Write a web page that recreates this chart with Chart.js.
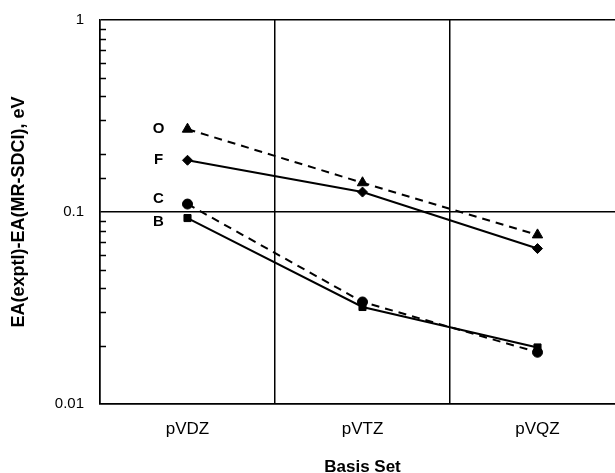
<!DOCTYPE html>
<html>
<head>
<meta charset="utf-8">
<script src="https://cdn.jsdelivr.net/npm/chart.js@4/dist/chart.umd.min.js"></script>
<style>
  html, body { margin: 0; padding: 0; background: #fff; overflow: hidden; }
  canvas { display: block; }
</style>
</head>
<body>
<canvas id="c" width="625" height="473"></canvas>
<script>
// ---- data ----
const categories = ["pVDZ", "pVTZ", "pVQZ"];
const seriesNames = ["O", "F", "C", "B"];
const valuesO = [0.270, 0.142, 0.076];
const valuesF = [0.186, 0.127, 0.0645];
const valuesC = [0.110, 0.034, 0.0186];
const valuesB = [0.093, 0.032, 0.0197];
const yTickLabels = [0.01, 0.1, 1];
const xTitle = "Basis Set";
const yTitle = "EA(exptl)-EA(MR-SDCI), eV";

const FONT = "'Liberation Sans', Arial, Helvetica, sans-serif";

function ds(name, data, style, dashed, labelDy) {
  return {
    label: name,
    data: data,
    borderColor: '#000',
    backgroundColor: '#000',
    borderWidth: 2,
    borderDash: dashed ? [8, 6] : [],
    pointStyle: style,
    pointRadius: style === 'triangle' ? 6 : 5,
    pointBackgroundColor: '#000',
    pointBorderColor: '#000',
    pointBorderWidth: 1,
    tension: 0,
    fill: false,
    labelDy: labelDy
  };
}

const isDecade = v => yTickLabels.some(t => Math.abs(v - t) / t < 1e-6);

const extras = {
  id: 'extras',
  afterDraw(chart) {
    const ctx = chart.ctx;
    const ys = chart.scales.y;
    ctx.save();
    // minor ticks inside the plot
    ctx.strokeStyle = '#000';
    ctx.lineWidth = 1.5;
    ys.ticks.forEach(t => {
      if (isDecade(t.value)) return;
      const py = Math.round(ys.getPixelForValue(t.value)) + 0.5;
      ctx.beginPath();
      ctx.moveTo(ys.right, py);
      ctx.lineTo(ys.right + 6, py);
      ctx.stroke();
    });
    // series name labels beside first point
    ctx.fillStyle = '#000';
    ctx.font = "bold 15px " + FONT;
    ctx.textAlign = 'center';
    ctx.textBaseline = 'middle';
    chart.data.datasets.forEach((d, i) => {
      const p = chart.getDatasetMeta(i).data[0];
      ctx.fillText(d.label, p.x - 29, p.y + (d.labelDy || 0));
    });
    ctx.restore();
  }
};

new Chart(document.getElementById('c'), {
  type: 'line',
  data: {
    labels: categories,
    datasets: [
      ds(seriesNames[0], valuesO, 'triangle', true, 0),
      ds(seriesNames[1], valuesF, 'rectRot', false, 0),
      ds(seriesNames[2], valuesC, 'circle', true, -5),
      ds(seriesNames[3], valuesB, 'rect', false, 4)
    ]
  },
  options: {
    responsive: false,
    animation: false,
    layout: { autoPadding: false, padding: { top: 20, right: 0, bottom: 0, left: 0 } },
    plugins: { legend: { display: false }, tooltip: { enabled: false } },
    scales: {
      x: {
        type: 'category',
        offset: true,
        grid: { offset: true, color: '#000', lineWidth: 1.5, drawTicks: false },
        border: { color: '#000', width: 1.5 },
        ticks: { color: '#000', font: { family: FONT, size: 17 }, padding: 15 },
        title: { display: true, text: xTitle, color: '#000',
                 font: { family: FONT, size: 17, weight: 'bold', lineHeight: 1 }, padding: { top: 0, bottom: -3 } },
        afterFit(scale) {
          scale.height = 69;
          scale.paddingLeft = 0; scale.paddingRight = 0;
          scale.paddingTop = 0; scale.paddingBottom = 0;
        }
      },
      y: {
        type: 'logarithmic',
        min: 0.01,
        max: 1,
        grid: {
          drawTicks: false,
          lineWidth: 1.5,
          color: c => (c.tick && isDecade(c.tick.value)) ? '#000' : 'rgba(0,0,0,0)'
        },
        border: { color: '#000', width: 1.5 },
        ticks: {
          color: '#000',
          autoSkip: false,
          padding: 16,
          font: { family: FONT, size: 15 },
          callback: function (v) { return isDecade(v) ? String(yTickLabels.find(t => Math.abs(v - t) / t < 1e-6)) : ''; }
        },
        title: { display: true, text: yTitle, color: '#000',
                 font: { family: FONT, size: 18, weight: 'bold' }, padding: { top: 8, bottom: 0 } },
        afterFit(scale) {
          scale.width = 100;
          scale.paddingLeft = 0; scale.paddingRight = 0;
          scale.paddingTop = 0; scale.paddingBottom = 0;
        }
      }
    }
  },
  plugins: [extras]
});
</script>
</body>
</html>
